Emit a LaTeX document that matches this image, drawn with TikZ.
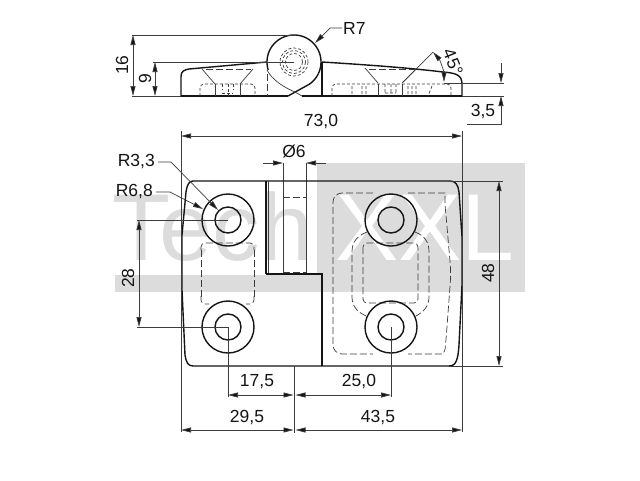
\documentclass[tikz,border=0pt]{standalone}
\usepackage{fontspec}
\setmainfont{Liberation Sans}
\usetikzlibrary{arrows.meta}
\definecolor{wm}{HTML}{DCDCDC}
\definecolor{ink}{HTML}{151515}
\definecolor{dimc}{HTML}{3C3C3C}
\tikzset{
  x=1pt,y=-1pt,
  objline/.style={draw=ink,line width=1.4pt},
  thinline/.style={draw=dimc,line width=0.7pt},
  hidden/.style={draw=dimc,line width=0.7pt,dash pattern=on 7pt off 3pt},
  hiddenfine/.style={draw=dimc,line width=0.7pt,dash pattern=on 3pt off 2pt},
  extline/.style={draw=dimc,line width=0.7pt},
  dimboth/.style={extline,{Triangle[length=10pt,width=5pt,fill=ink]}-{Triangle[length=10pt,width=5pt,fill=ink]}},
  dimtip/.style={extline,-{Triangle[length=10pt,width=5pt,fill=ink]}},
  lbl/.style={inner sep=0pt,text=ink,font=\fontsize{17.5}{19}\selectfont},
}
\begin{document}
\begin{tikzpicture}
\useasboundingbox (0,0) rectangle (640,480);
\fill[white] (0,0) rectangle (640,480);
% watermark
\fill[wm] (317,163) rectangle (525,292);
\fill[wm] (115,275) rectangle (525,292);
\node[anchor=base west,inner sep=0pt,text=wm,font=\fontsize{95}{95}\selectfont] (wmA) at (112,260) {Tech};
\node[anchor=base west,inner sep=0pt,text=white,font=\fontsize{95}{95}\selectfont] (wmB) at (335,260) {XXL};

% ---------- side view ----------
\draw[objline,line join=round] (181,96) -- (181,77) .. controls (181,71) and (184,70) .. (189,69) -- (267,62);
\draw[objline] (322,62) .. controls (370,65) and (410,68) .. (443,72) .. controls (456,73) and (462,75) .. (462,84) -- (462,96);
\draw[objline] (322,62) -- (322,96);
\draw[objline] (181,96) -- (288,96);
\draw[objline] (302,96) -- (462,96);
\draw[objline] plot[domain=197:-25,samples=60,smooth] ({294+27*cos(\x)},{62-27*sin(\x)});
\draw[objline] plot[domain=-25:-55,samples=10,smooth] ({294+27*cos(\x)},{62-27*sin(\x)}) -- (288,96);
\draw[thinline] (267,70) .. controls (272,80) and (285,88) .. (295,92) -- (302,96);
\draw[hidden] (267,74) -- (267,96);
% hub
\draw[hiddenfine] (294,62) circle (14);
\draw[hiddenfine] (294,62) circle (11.5);
\draw[hiddenfine] (294,62) circle (8.5);
% left countersink
\draw[thinline] (202,69) -- (215,84) (253,69) -- (240,84);
\draw[hidden] (206,69) -- (251,69);
\draw[hiddenfine,rounded corners=4pt] (200,96) -- (200,84) -- (255,84) -- (255,96);
\draw[thinline] (215,84) -- (215,96) (240,84) -- (240,96);
\draw[hiddenfine] (222,84) -- (222,90) (233,84) -- (233,90) (222,93) -- (233,93) (228,84) -- (228,96);
% right countersink
\draw[thinline] (365,68) -- (378,83) (417,68) -- (402,83);
\draw[hidden] (369,69) -- (416,69);
\draw[hiddenfine,rounded corners=4pt] (332,96) -- (332,84) -- (451,84) -- (451,96);
\draw[thinline] (378,84) -- (378,96) (402,84) -- (402,96);
\draw[hiddenfine] (352,86) -- (352,96) (362,86) -- (362,96) (366,86) -- (366,96) (385,84) -- (385,92) (391,84) -- (391,92) (385,93) -- (396,93) (396,84) -- (396,92)
  (408,86) -- (408,96) (412,86) -- (412,96) (416,86) -- (416,96) (432,86) -- (428,96);

% side dims
\coordinate (sTop) at (133,35); \coordinate (sBase) at (133,96);
\coordinate (nTop) at (155,62); \coordinate (nBase) at (155,96);
\draw[extline] (132,35) -- (296,35);
\draw[extline] (153,62) -- (294,62);
\draw[extline] (132,96) -- (181,96);
\draw[dimboth] (sTop) -- (sBase);
\draw[dimboth] (nTop) -- (nBase);
\node[lbl,rotate=90] (l16) at (122,65) {16};
\node[lbl,rotate=90] (l9) at (145,79) {9};
\coordinate (r7tip) at (315,43);
\node[lbl,anchor=west] (r7) at (343,28) {R7};
\draw[dimtip] (r7.west) ++(-1,0) -- (330,28) -- (r7tip);
% 45 deg
\coordinate (aA) at (433,52); \coordinate (aB) at (444,82);
\draw[thinline] (403,82) -- (aA);
\draw[dimboth] (aA) .. controls (440,60) and (444,72) .. (aB);
\node[lbl,rotate=-68] (l45) at (453,62) {45°};
% 3,5
\coordinate (tA) at (501,83); \coordinate (tB) at (501,96);
\draw[extline] (444,83) -- (504,83);
\draw[extline] (462,96) -- (504,96);
\draw[dimtip] (501,63) -- (tA);
\draw[dimtip] (467,124) -- (501,124) -- (tB);
\node[lbl] (l35) at (483,112) {3,5};

% ---------- plan view ----------
% hidden, left
\draw[hidden,rounded corners=4pt] (201,250) -- (201,243) -- (254,243) -- (254,250);
\draw[hidden] (201,250) -- (201,298) (254,250) -- (254,298);
\draw[hidden,rounded corners=4pt] (201,296) -- (201,304) -- (209,304);
\draw[hidden,rounded corners=4pt] (254,296) -- (254,304) -- (246,304);
% hidden, right outer
\draw[hidden,rounded corners=9pt] (373,193) -- (333,193) -- (333,354) -- (373,354);
\draw[hidden,rounded corners=9pt] (408,193) -- (436,193) .. controls (445,193) and (445,205) .. (446,215) -- (451,273) -- (446,340) .. controls (445,350) and (443,354) .. (434,354) -- (408,354);
% hidden, right middle
\draw[hidden] (367,232) .. controls (357,236) and (352,242) .. (352,252) -- (352,297) .. controls (352,307) and (358,312) .. (366,316);
\draw[hidden] (415,232) .. controls (425,236) and (429,242) .. (429,252) -- (429,297) .. controls (429,307) and (423,312) .. (416,316);
% hidden, right inner
\draw[hidden,rounded corners=4pt] (363,243) rectangle (418,303);
% pin
\draw[thinline] (283,163) -- (283,273);
\draw[thinline] (306,163) -- (306,273);
\draw[hidden] (283,197) -- (306,197);
\draw[hidden] (283,272) -- (306,272);
% outline
\draw[objline,line join=round] (193,181) -- (450,181) .. controls (456,181) and (458,185) .. (459,192) -- (462,237) -- (462,285) -- (459,345) .. controls (458,360) and (456,366) .. (449,366) -- (193,366) .. controls (188,366) and (186,362) .. (185,355) -- (182,290) -- (182,235) -- (186,192) .. controls (187,185) and (189,181) .. (193,181) -- cycle;
\draw[objline] (266,181) -- (266,274);
\draw[thinline] (268.5,181) -- (268.5,274);
\draw[objline] (266,274) -- (322,274) -- (322,366);
% holes
\foreach \n/\cx/\cy in {a/228/220,b/228/327,c/391/220,d/391/327}{
  \coordinate (hole\n) at (\cx,\cy);
  \draw[objline] (hole\n) circle (26);
  \draw[objline] (hole\n) circle (13);
}
% plan dims
\coordinate (xL) at (181,136); \coordinate (xR) at (462,136);
\draw[extline] (181,131) -- (181,432);
\draw[extline] (462,131) -- (462,432);
\draw[dimboth] (xL) -- (xR);
\node[lbl] (l73) at (321,122) {73,0};
% dia 6
\coordinate (pL) at (283,163); \coordinate (pR) at (306,163);
\draw[dimtip] (263,163) -- (pL);
\draw[dimtip] (326,163) -- (pR);
\node[lbl] (ld6) at (294,151) {Ø6};
% radii
\node[lbl,anchor=east] (r33) at (155,162) {R3,3};
\node[lbl,anchor=east] (r68) at (153,192) {R6,8};
\coordinate (r33tip) at (218,210);
\coordinate (r68tip) at (203,209);
\draw[dimtip] (r33.east) ++(3,0) -- (171,162) -- (r33tip);
\draw[dimtip] (r68.east) ++(3,0) -- (170,192) -- (r68tip);
% 28
\coordinate (vA) at (139,220); \coordinate (vB) at (139,327);
\draw[extline] (137,220) -- (holea);
\draw[extline] (137,327) -- (holeb);
\draw[dimboth] (vA) -- (vB);
\node[lbl,rotate=90] (l28) at (128,278) {28};
% 48
\coordinate (wA) at (499,181); \coordinate (wB) at (499,366);
\draw[extline] (450,181) -- (503,181);
\draw[extline] (449,366) -- (503,366);
\draw[dimboth] (wA) -- (wB);
\node[lbl,rotate=90] (l48) at (488,273) {48};
% bottom chain
\coordinate (e1) at (228,395); \coordinate (e2) at (293.5,395); \coordinate (e3) at (295.5,395); \coordinate (e4) at (391,395);
\coordinate (f1) at (181,430); \coordinate (f2) at (293.5,430); \coordinate (f3) at (295.5,430); \coordinate (f4) at (462,430);
\draw[extline] (holeb) -- (228,397);
\draw[extline] (holed) -- (391,397);
\draw[extline] (294.5,366) -- (294.5,433);
\draw[dimboth] (e1) -- (e2);
\draw[dimboth] (e3) -- (e4);
\draw[dimboth] (f1) -- (f2);
\draw[dimboth] (f3) -- (f4);
\node[lbl] (l175) at (257,382) {17,5};
\node[lbl] (l250) at (359,382) {25,0};
\node[lbl] (l295) at (247,418) {29,5};
\node[lbl] (l435) at (378,418) {43,5};
\end{tikzpicture}
\end{document}
